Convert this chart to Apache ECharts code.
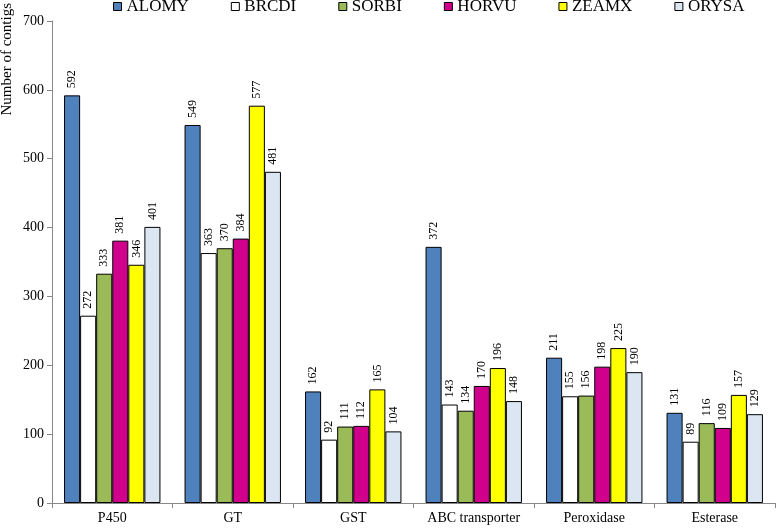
<!DOCTYPE html>
<html><head><meta charset="utf-8">
<script src="https://cdn.jsdelivr.net/npm/echarts@6/dist/echarts.min.js"></script>
<style>html,body{margin:0;padding:0;background:#fff}#c{width:777px;height:528px}</style>
</head><body><div id="c"></div>
<script>
const categories = ['P450','GT','GST','ABC transporter','Peroxidase','Esterase'];
const seriesNames = ['ALOMY','BRCDI','SORBI','HORVU','ZEAMX','ORYSA'];
const ALOMY = [592,549,162,372,211,131];
const BRCDI = [272,363,92,143,155,89];
const SORBI = [333,370,111,134,156,116];
const HORVU = [381,384,112,170,198,109];
const ZEAMX = [346,577,165,196,225,157];
const ORYSA = [401,481,104,148,190,129];
const yTicks = {min:0, max:700, interval:100};
const colors = ['#4F81BD','#FFFFFF','#9BBB59','#D1008C','#FFFF00','#DCE6F2'];
const dataSets = [ALOMY,BRCDI,SORBI,HORVU,ZEAMX,ORYSA];
const font = 'Liberation Serif';

const chart = echarts.init(document.getElementById('c'));
chart.setOption({
  animation:false,
  textStyle:{fontFamily:font},
  legend:{
    top:-2, left:113, padding:0, itemWidth:8, itemHeight:8, itemGap:42, icon:'rect',
    textStyle:{fontFamily:font, fontSize:17, color:'#000'},
    data:seriesNames.map(n=>({name:n, itemStyle:{borderColor:'#000', borderWidth:1}}))
  },
  grid:{left:52, right:2, top:18, bottom:25, containLabel:false},
  xAxis:{
    type:'category', data:categories,
    axisLine:{lineStyle:{color:'#888'}},
    axisTick:{show:true, length:5, lineStyle:{color:'#888'}},
    axisLabel:{color:'#000', fontFamily:font, fontSize:14, margin:8, interval:0}
  },
  yAxis:{
    type:'value', min:yTicks.min, max:yTicks.max, interval:yTicks.interval,
    name:'Number of contigs', nameLocation:'end', nameRotate:90, nameGap:18,
    nameTextStyle:{fontFamily:font, fontSize:15, color:'#000', align:'right', verticalAlign:'bottom', padding:[0,0,37,0]},
    splitLine:{show:false},
    axisLine:{show:true, lineStyle:{color:'#888'}},
    axisTick:{show:true, length:5, lineStyle:{color:'#888'}},
    axisLabel:{color:'#000', fontFamily:font, fontSize:14, margin:8}
  },
  series: seriesNames.map((n,i)=>({
    name:n, type:'bar', data:dataSets[i],
    barGap:'0%', barCategoryGap:'20%',
    itemStyle:{color:colors[i], borderColor:'#000', borderWidth:1},
    label:{show:true, position:'top', rotate:90, align:'left', verticalAlign:'middle', distance:7,
      fontFamily:font, fontSize:12, color:'#000'}
  }))
});
</script></body></html>
